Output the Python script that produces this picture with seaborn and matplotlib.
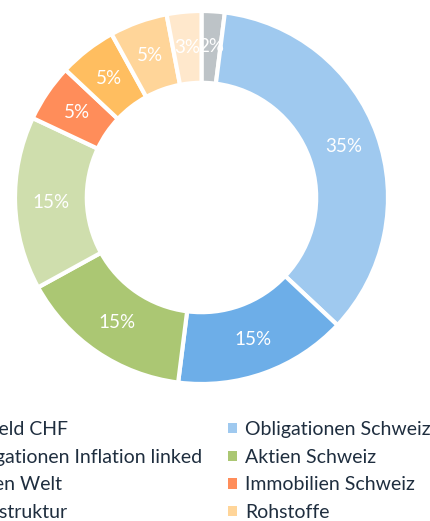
import matplotlib
matplotlib.use("Agg")
import matplotlib.pyplot as plt
from matplotlib.patches import Patch
import seaborn as sns

categories = ["Bargeld CHF", "Obligationen Schweiz", "Obligationen Inflation linked",
              "Aktien Schweiz", "Aktien Welt", "Immobilien Schweiz",
              "Infrastruktur", "Rohstoffe", "Gold"]
values = [2, 35, 15, 15, 15, 5, 5, 5, 3]
colors = ["#bdc3c7", "#9fc9ef", "#6daee8", "#abc773", "#cfdead",
          "#ff8d5a", "#ffbe60", "#ffd599", "#ffe8cc"]

sns.set_theme(style="white")
plt.rcParams["font.family"] = ["Lato", "DejaVu Sans"]

W, H = 430, 521
fig = plt.figure(figsize=(W / 100, H / 100), dpi=100)
cx, cy, R = 201.5, 197.5, 186.5
ax = fig.add_axes([(cx - R) / W, (H - cy - R) / H, 2 * R / W, 2 * R / H])
wedges, texts, autotexts = ax.pie(
    values, colors=sns.color_palette(colors), startangle=90, counterclock=False,
    radius=1.0, autopct="%d%%", pctdistance=0.81,
    wedgeprops=dict(width=0.385, edgecolor="white", linewidth=3),
    textprops=dict(color="white", fontsize=13.5))
ax.set_xlim(-1, 1)
ax.set_ylim(-1, 1)
ax.set_aspect("equal")
ax.axis("off")

handles = [Patch(facecolor=c, edgecolor="none") for c in colors]
# column-major order so that rows read left-to-right like the reference
order = [0, 2, 4, 6, 8, 1, 3, 5, 7]
fig.legend([handles[i] for i in order], [categories[i] for i in order],
           ncol=2, loc="upper left", bbox_to_anchor=(-58 / W, 1 - 421 / H),
           bbox_transform=fig.transFigure, frameon=False, fontsize=14,
           handlelength=0.45, handleheight=0.45, handletextpad=0.42,
           labelspacing=0.55, columnspacing=1.35, borderpad=0, borderaxespad=0,
           labelcolor="#1f2e3f")

fig.savefig("out.png", dpi=100)
